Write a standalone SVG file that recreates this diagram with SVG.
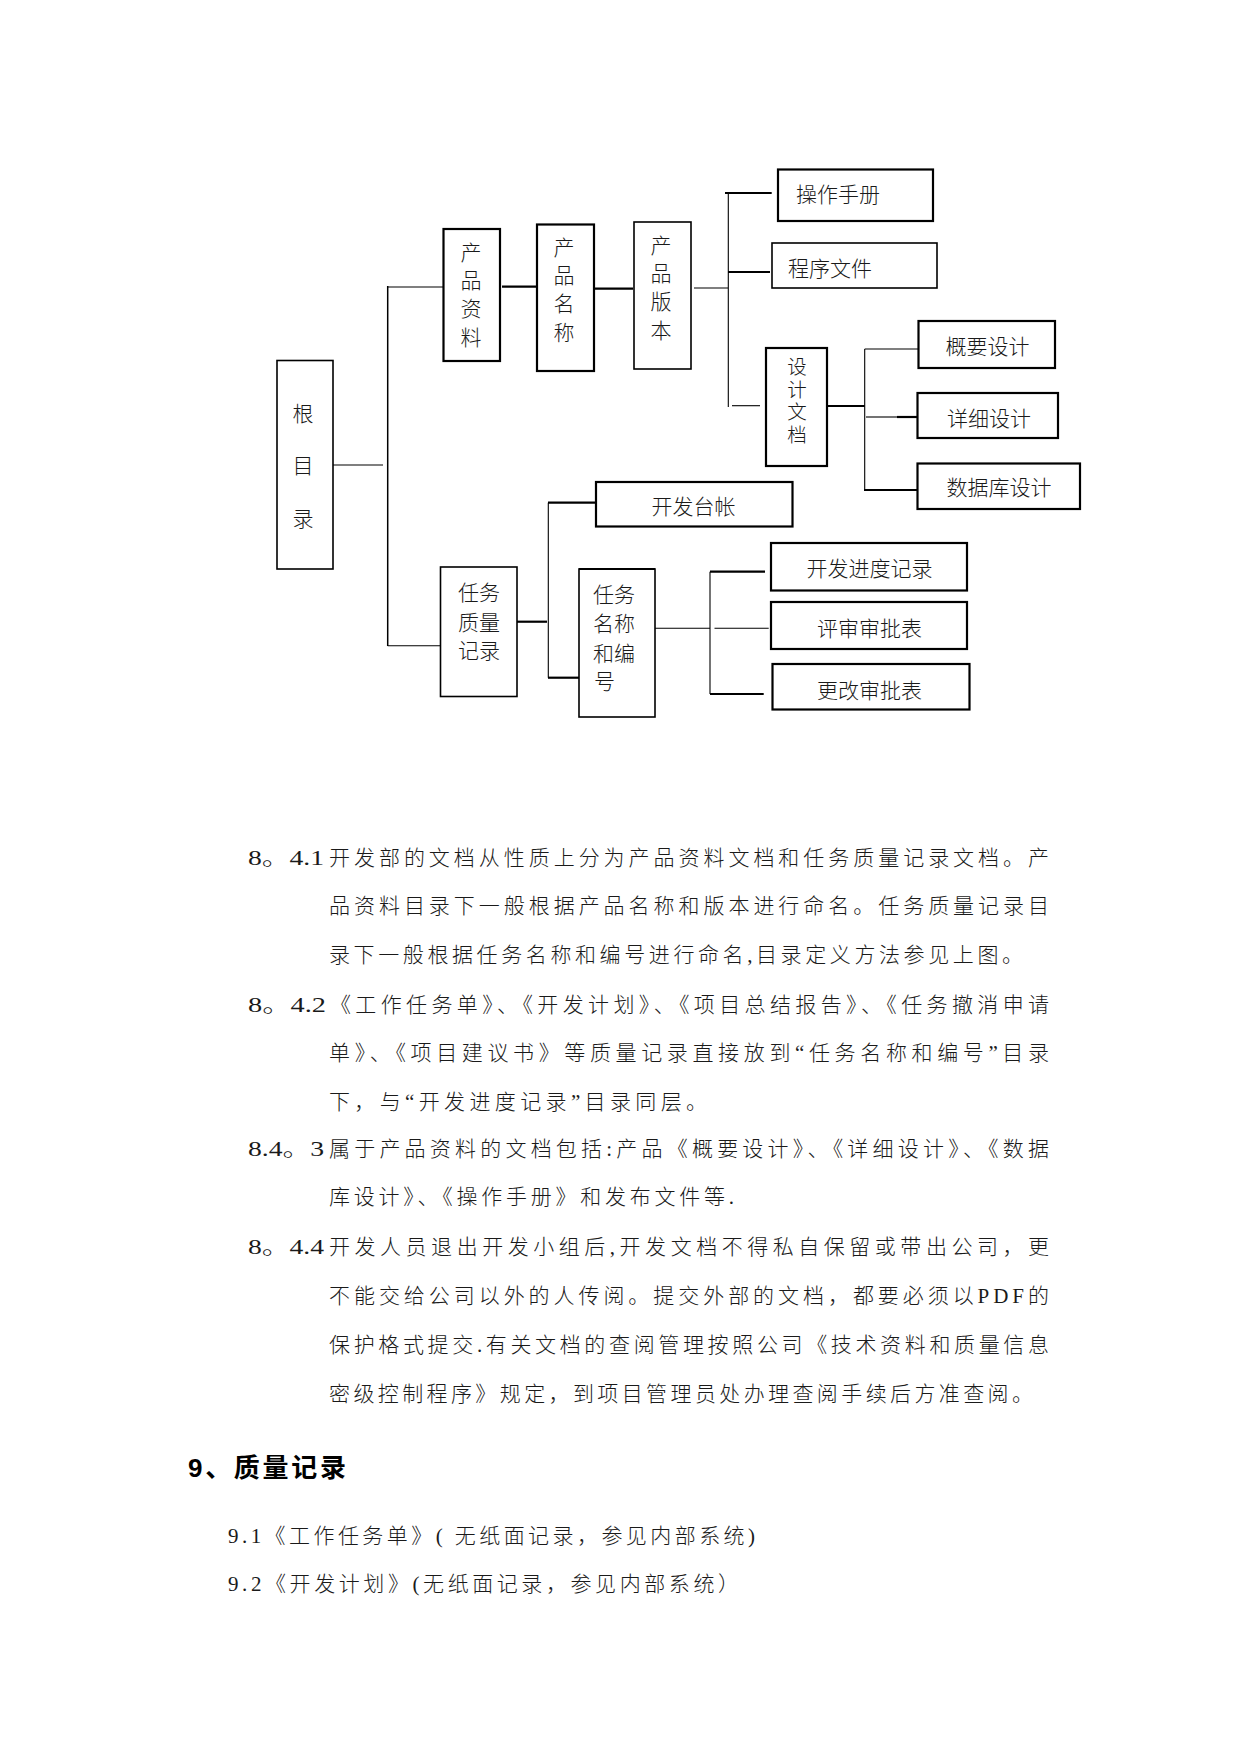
<svg xmlns="http://www.w3.org/2000/svg" width="1241" height="1754" viewBox="0 0 1241 1754">
<style>
.bg{fill:#fff}
.box{fill:#fff;stroke:#000;stroke-width:1.6}
.bx2{fill:#fff;stroke:#000;stroke-width:2.2}
.thin{stroke:#000;stroke-width:1.1;fill:none}
.thk{stroke:#000;stroke-width:2.2;fill:none}
.lbl{font-family:"Noto Sans CJK SC","Liberation Serif",sans-serif;font-weight:300;font-size:21px;fill:#1a1a1a;dominant-baseline:central}
.vt{font-family:"Noto Sans CJK SC",sans-serif;font-weight:300;font-size:21px;fill:#1a1a1a;writing-mode:vertical-rl;text-anchor:middle;letter-spacing:7.3px}
.c{text-anchor:middle}
.p{font-family:"Liberation Serif","Noto Sans CJK SC",serif;font-weight:300;font-size:21px;fill:#1a1a1a;dominant-baseline:central}
.h{font-family:"Liberation Sans","Noto Sans CJK SC",sans-serif;font-weight:bold;font-size:26px;fill:#000;dominant-baseline:central}
</style>
<rect class="bg" x="0" y="0" width="1241" height="1754"/>

<g id="connectors">
<line class="thin" x1="333" y1="465" x2="383" y2="465"/>
<line class="thin" x1="387.7" y1="286" x2="387.7" y2="646" style="stroke-width:1.5"/>
<line class="thin" x1="387.7" y1="287" x2="443" y2="287"/>
<line class="thin" x1="387.7" y1="645.7" x2="440" y2="645.7"/>
<line class="thk" x1="502" y1="286.7" x2="536" y2="286.7"/>
<line class="thk" x1="594" y1="288.7" x2="633" y2="288.7"/>
<line class="thin" x1="694" y1="288" x2="728" y2="288"/>
<line class="thin" x1="728.3" y1="193" x2="728.3" y2="407"/>
<line class="thk" x1="725" y1="193" x2="771.7" y2="193"/>
<line class="thk" x1="728" y1="272" x2="770" y2="272"/>
<line class="thin" x1="732" y1="405.7" x2="760" y2="405.7"/>
<line class="thk" x1="827" y1="406" x2="864.7" y2="406"/>
<line class="thin" x1="864.7" y1="349" x2="864.7" y2="490"/>
<line class="thin" x1="864.7" y1="349" x2="920.7" y2="349"/>
<line class="thin" x1="866" y1="417" x2="897" y2="417"/>
<line class="thk" x1="897" y1="417" x2="917" y2="417"/>
<line class="thk" x1="864" y1="490" x2="917" y2="490"/>
<line class="thk" x1="517" y1="621.7" x2="547" y2="621.7"/>
<line class="thin" x1="548.3" y1="502.7" x2="548.3" y2="677.7"/>
<line class="thk" x1="548" y1="502.7" x2="596" y2="502.7"/>
<line class="thk" x1="548" y1="677.7" x2="579" y2="677.7"/>
<line class="thin" x1="655" y1="628.3" x2="710" y2="628.3"/>
<line class="thin" x1="710" y1="571.7" x2="710" y2="694"/>
<line class="thk" x1="710" y1="571.7" x2="765" y2="571.7"/>
<line class="thin" x1="714.5" y1="628.3" x2="768.7" y2="628.3"/>
<line class="thk" x1="710" y1="694" x2="763.7" y2="694"/>
</g>

<g id="root">
<rect class="box" x="277" y="360.5" width="56" height="208.5"/>
<text class="vt" x="303" y="481" style="letter-spacing:31.5px">根目录</text>
</g>

<g id="product-data">
<rect class="bx2" x="443.5" y="229" width="56.5" height="132"/>
<text class="vt" x="471" y="298">产品资料</text>
</g>

<g id="product-name">
<rect class="bx2" x="537" y="224.5" width="57" height="146.5"/>
<text class="vt" x="564" y="293">产品名称</text>
</g>

<g id="product-version">
<rect class="box" x="634" y="222" width="57" height="147"/>
<text class="vt" x="661" y="291">产品版本</text>
</g>

<g id="manual">
<rect class="bx2" x="778" y="169.5" width="155" height="51.5"/>
<text class="lbl" x="796" y="192.5">操作手册</text>
</g>

<g id="program-files">
<rect class="box" x="772" y="243" width="165" height="45"/>
<text class="lbl" x="788" y="267">程序文件</text>
</g>

<g id="design-docs">
<rect class="bx2" x="766" y="348" width="61" height="118"/>
<text class="vt" x="797" y="402" style="font-size:19.5px;letter-spacing:3px">设计文档</text>
</g>

<g id="outline-design">
<rect class="bx2" x="918.5" y="321" width="136.5" height="47"/>
<text class="lbl c" x="987.5" y="345">概要设计</text>
</g>

<g id="detail-design">
<rect class="bx2" x="917.5" y="393" width="140.5" height="45"/>
<text class="lbl c" x="989" y="417">详细设计</text>
</g>

<g id="db-design">
<rect class="bx2" x="917.5" y="463.5" width="162.5" height="45.5"/>
<text class="lbl c" x="999" y="486">数据库设计</text>
</g>

<g id="dev-ledger">
<rect class="bx2" x="596" y="482" width="196.5" height="44.5"/>
<text class="lbl c" x="693.5" y="505">开发台帐</text>
</g>

<g id="task-quality">
<rect class="box" x="440.5" y="567" width="76.5" height="129.5"/>
<text class="lbl c" x="479" y="591">任务</text>
<text class="lbl c" x="479" y="621">质量</text>
<text class="lbl c" x="479" y="648.5">记录</text>
</g>

<g id="task-name">
<rect class="box" x="579" y="569" width="76" height="148"/>
<line class="thk" x1="579" y1="569" x2="655" y2="569"/>
<text class="lbl" x="593" y="592.5">任务</text>
<text class="lbl" x="593" y="622">名称</text>
<text class="lbl" x="593" y="652">和编</text>
<text class="lbl" x="594" y="680">号</text>
</g>

<g id="progress">
<rect class="bx2" x="771" y="543" width="196" height="47.5"/>
<text class="lbl c" x="869.5" y="567">开发进度记录</text>
</g>

<g id="review">
<rect class="bx2" x="771" y="602" width="196" height="47"/>
<text class="lbl c" x="869.5" y="627">评审审批表</text>
</g>

<g id="change">
<rect class="bx2" x="772.5" y="664" width="197" height="45.5"/>
<text class="lbl c" x="869.5" y="689">更改审批表</text>
</g>

<g id="paragraphs">
<text class="p" x="248" y="857.5" textLength="76" lengthAdjust="spacingAndGlyphs">8。4.1</text>
<text class="p" x="329" y="857.5" textLength="720" lengthAdjust="spacing">开发部的文档从性质上分为产品资料文档和任务质量记录文档。产</text>
<text class="p" x="329" y="906" textLength="720" lengthAdjust="spacing">品资料目录下一般根据产品名称和版本进行命名。任务质量记录目</text>
<text class="p" x="329" y="955" textLength="694" lengthAdjust="spacing">录下一般根据任务名称和编号进行命名,目录定义方法参见上图。</text>
<text class="p" x="248" y="1004.5" textLength="78" lengthAdjust="spacingAndGlyphs">8。4.2</text>
<text class="p" x="330" y="1004.5" textLength="719" lengthAdjust="spacing">《工作任务单》、《开发计划》、《项目总结报告》、《任务撤消申请</text>
<text class="p" x="329" y="1053" textLength="720" lengthAdjust="spacing">单》、《项目建议书》等质量记录直接放到“任务名称和编号”目录</text>
<text class="p" x="329" y="1101.5" textLength="378" lengthAdjust="spacing">下，与“开发进度记录”目录同层。</text>
<text class="p" x="248" y="1148.5" textLength="76" lengthAdjust="spacingAndGlyphs">8.4。3</text>
<text class="p" x="329" y="1148.5" textLength="720" lengthAdjust="spacing">属于产品资料的文档包括:产品《概要设计》、《详细设计》、《数据</text>
<text class="p" x="329" y="1197" textLength="405" lengthAdjust="spacing">库设计》、《操作手册》和发布文件等.</text>
<text class="p" x="248" y="1246.5" textLength="76" lengthAdjust="spacingAndGlyphs">8。4.4</text>
<text class="p" x="329" y="1246.5" textLength="720" lengthAdjust="spacing">开发人员退出开发小组后,开发文档不得私自保留或带出公司，更</text>
<text class="p" x="329" y="1296" textLength="720" lengthAdjust="spacing">不能交给公司以外的人传阅。提交外部的文档，都要必须以PDF的</text>
<text class="p" x="329" y="1345" textLength="720" lengthAdjust="spacing">保护格式提交.有关文档的查阅管理按照公司《技术资料和质量信息</text>
<text class="p" x="329" y="1393.5" textLength="704" lengthAdjust="spacing">密级控制程序》规定，到项目管理员处办理查阅手续后方准查阅。</text>
</g>

<g id="section9">
<text class="h" x="188" y="1468" textLength="158" lengthAdjust="spacing">9、质量记录</text>
<text class="p" x="228" y="1536" textLength="527" lengthAdjust="spacing">9.1《工作任务单》( 无纸面记录，参见内部系统)</text>
<text class="p" x="228" y="1584" textLength="511" lengthAdjust="spacing">9.2《开发计划》(无纸面记录，参见内部系统）</text>
</g>
</svg>
